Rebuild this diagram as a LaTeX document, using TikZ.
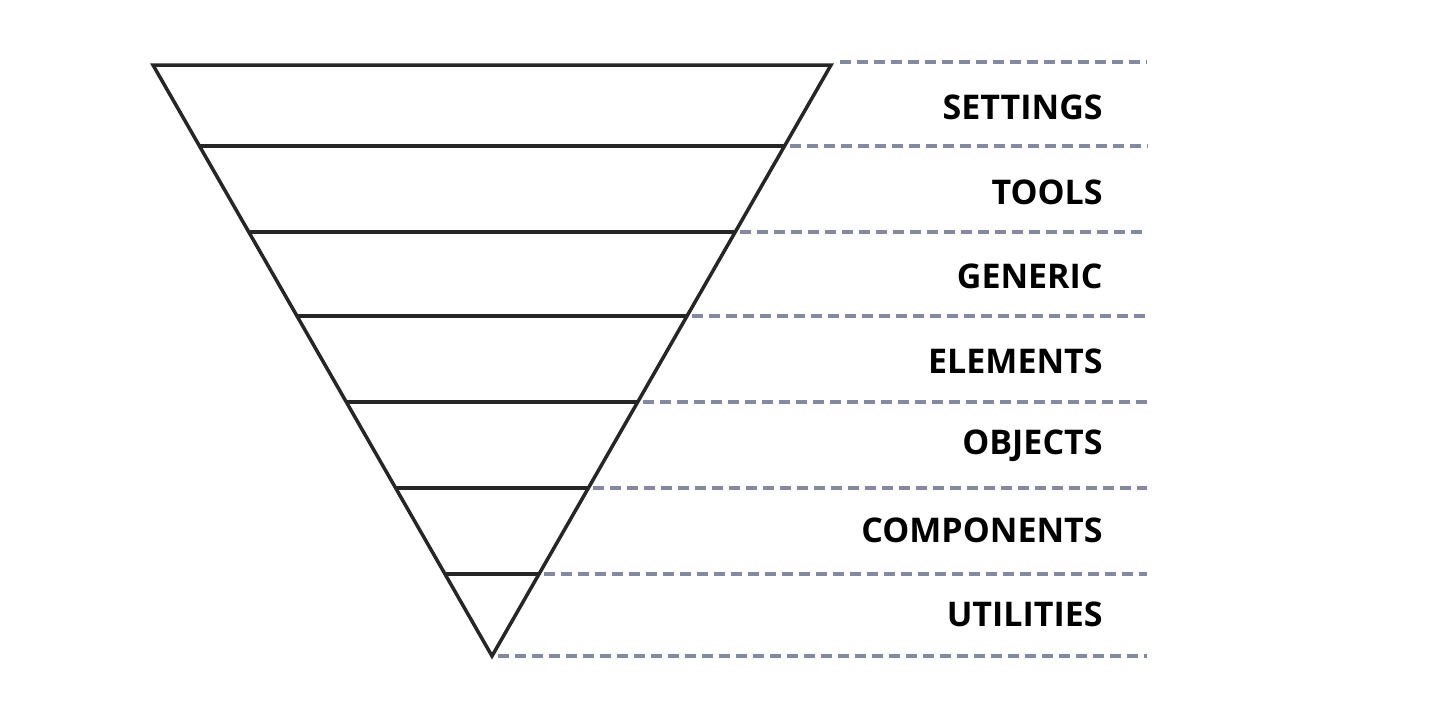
\documentclass[tikz,border=0pt]{standalone}
\usepackage{fontspec}
\setmainfont{Open Sans}
\begin{document}
\begin{tikzpicture}[x=0.5pt,y=-0.5pt,
  edge/.style={line width=1.75pt,draw=black!85,line join=miter},
  guide/.style={line width=1.7pt,draw=guidecol,dash pattern=on 5.5pt off 3pt},
  lbl/.style={anchor=east,inner sep=0pt,font=\bfseries\fontsize{17}{20}\selectfont,text=black}]
\definecolor{guidecol}{HTML}{8189A3}
\useasboundingbox (0,0) rectangle (1440,720);
\coordinate (tl) at (153,65);
\coordinate (tr) at (831,65);
\coordinate (bt) at (492,656);
\draw[edge] (tl) -- (tr) -- (bt) -- cycle;
\foreach \y/\n in {146/1,232/2,316/3,402/4,488/5,574/6}{
  \pgfmathsetmacro\d{(\y-65)*0.5736}
  \coordinate (l\n) at ({153+\d},\y);
  \coordinate (r\n) at ({831-\d},\y);
  \coordinate (s\n) at ({836-\d},\y);
  \coordinate (e\n) at (1147,\y);
  \draw[edge] (l\n) -- (r\n);
  \draw[guide] (s\n) -- (e\n);
}
\coordinate (s0) at (840,62); \coordinate (e0) at (1147,62);
\coordinate (s7) at (498,656); \coordinate (e7) at (1147,656);
\draw[guide] (s0) -- (e0);
\draw[guide] (s7) -- (e7);
\node[lbl] (t1) at (1103,107) {SETTINGS};
\node[lbl] (t2) at (1103,192) {TOOLS};
\node[lbl] (t3) at (1103,276) {GENERIC};
\node[lbl] (t4) at (1103,361) {ELEMENTS};
\node[lbl] (t5) at (1103,446) {OBJECTS};
\node[lbl] (t6) at (1103,530) {COMPONENTS};
\node[lbl] (t7) at (1103,614) {UTILITIES};
\end{tikzpicture}
\end{document}
